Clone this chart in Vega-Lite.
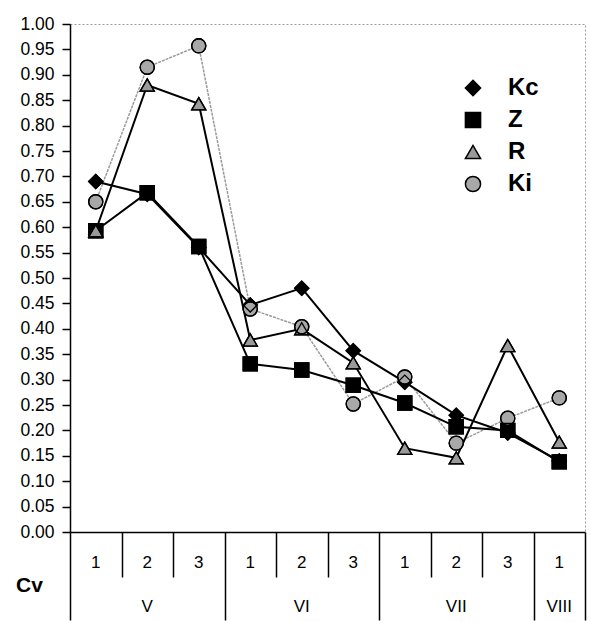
{
  "$schema": "https://vega.github.io/schema/vega-lite/v6.json",
  "width": 515,
  "height": 508,
  "autosize": {"type": "none"},
  "padding": {"left": 70, "top": 24, "right": 6, "bottom": 90},
  "background": "white",
  "config": {
    "font": "Liberation Sans",
    "view": {"stroke": "#9a9a9a", "strokeDash": [2, 2], "strokeWidth": 1},
    "axis": {"labelFont": "Liberation Sans", "labelColor": "black", "domainColor": "black", "tickColor": "black", "grid": false},
    "legend": {
      "orient": "none", "legendX": 391, "legendY": 52, "title": null,
      "symbolSize": 230, "symbolStrokeWidth": 1.5, "symbolOpacity": 1,
      "labelFontSize": 24, "labelFontWeight": "bold", "labelFont": "Liberation Sans", "labelColor": "black",
      "labelOffset": 23, "rowPadding": 8
    }
  },
  "data": {
    "values": [
      {"series": "Kc", "cat": "V-1", "value": 0.69},
      {"series": "Kc", "cat": "V-2", "value": 0.665},
      {"series": "Kc", "cat": "V-3", "value": 0.56},
      {"series": "Kc", "cat": "VI-1", "value": 0.447},
      {"series": "Kc", "cat": "VI-2", "value": 0.48},
      {"series": "Kc", "cat": "VI-3", "value": 0.357},
      {"series": "Kc", "cat": "VII-1", "value": 0.295},
      {"series": "Kc", "cat": "VII-2", "value": 0.23},
      {"series": "Kc", "cat": "VII-3", "value": 0.195},
      {"series": "Kc", "cat": "VIII-1", "value": 0.14},
      {"series": "Z", "cat": "V-1", "value": 0.593},
      {"series": "Z", "cat": "V-2", "value": 0.668},
      {"series": "Z", "cat": "V-3", "value": 0.562},
      {"series": "Z", "cat": "VI-1", "value": 0.331},
      {"series": "Z", "cat": "VI-2", "value": 0.319},
      {"series": "Z", "cat": "VI-3", "value": 0.289},
      {"series": "Z", "cat": "VII-1", "value": 0.254},
      {"series": "Z", "cat": "VII-2", "value": 0.207},
      {"series": "Z", "cat": "VII-3", "value": 0.2},
      {"series": "Z", "cat": "VIII-1", "value": 0.138},
      {"series": "R", "cat": "V-1", "value": 0.593},
      {"series": "R", "cat": "V-2", "value": 0.88},
      {"series": "R", "cat": "V-3", "value": 0.843},
      {"series": "R", "cat": "VI-1", "value": 0.378},
      {"series": "R", "cat": "VI-2", "value": 0.4},
      {"series": "R", "cat": "VI-3", "value": 0.333},
      {"series": "R", "cat": "VII-1", "value": 0.165},
      {"series": "R", "cat": "VII-2", "value": 0.146},
      {"series": "R", "cat": "VII-3", "value": 0.367},
      {"series": "R", "cat": "VIII-1", "value": 0.177},
      {"series": "Ki", "cat": "V-1", "value": 0.65},
      {"series": "Ki", "cat": "V-2", "value": 0.915},
      {"series": "Ki", "cat": "V-3", "value": 0.957},
      {"series": "Ki", "cat": "VI-1", "value": 0.439},
      {"series": "Ki", "cat": "VI-2", "value": 0.404},
      {"series": "Ki", "cat": "VI-3", "value": 0.252},
      {"series": "Ki", "cat": "VII-1", "value": 0.305},
      {"series": "Ki", "cat": "VII-2", "value": 0.175},
      {"series": "Ki", "cat": "VII-3", "value": 0.224},
      {"series": "Ki", "cat": "VIII-1", "value": 0.264}
    ]
  },
  "resolve": {"axis": {"x": "independent", "y": "independent"}},
  "layer": [
    {
      "transform": [{"filter": "datum.series == 'Ki'"}],
      "mark": {"type": "line", "color": "#9a9a9a", "strokeWidth": 1.5, "strokeDash": [3, 1]},
      "encoding": {
        "x": {
          "field": "cat", "type": "ordinal",
          "scale": {"type": "band", "paddingInner": 0, "paddingOuter": 0, "domain": ["V-1","V-2","V-3","VI-1","VI-2","VI-3","VII-1","VII-2","VII-3","VIII-1"]},
          "axis": {
            "orient": "bottom", "ticks": false, "tickSize": 0, "domain": false,
            "labelAngle": 0, "labelFontSize": 17, "labelPadding": 22,
            "labelExpr": "split(datum.value, '-')[1]",
            "title": "Cv", "titleFontSize": 21, "titleFontWeight": "bold", "titleFont": "Liberation Sans",
            "titleX": -41, "titleY": 53, "titleAlign": "center", "titleBaseline": "middle", "titleAngle": 0
          }
        },
        "y": {
          "field": "value", "type": "quantitative",
          "scale": {"domain": [0, 1], "nice": false},
          "axis": {
            "values": [0,0.05,0.1,0.15,0.2,0.25,0.3,0.35,0.4,0.45,0.5,0.55,0.6,0.65,0.7,0.75,0.8,0.85,0.9,0.95,1],
            "format": ".2f", "labelFontSize": 17.5, "tickSize": 8, "tickWidth": 1.5, "domainWidth": 1.5,
            "labelPadding": 8, "title": null
          }
        },
        "detail": {"field": "series"}
      }
    },
    {
      "transform": [{"filter": "datum.series != 'Ki'"}],
      "mark": {"type": "line", "color": "black", "strokeWidth": 2},
      "encoding": {
        "x": {
          "field": "cat", "type": "ordinal",
          "axis": {
            "orient": "bottom", "labels": false, "tickBand": "extent", "domain": true, "domainWidth": 1.5,
            "tickWidth": 1.5,
            "tickSize": {"condition": {"test": "indexof(['V-1','V-2','VI-1','VI-2','VII-1','VII-2'], datum.value) >= 0", "value": 45}, "value": 88},
            "title": null
          }
        },
        "y": {"field": "value", "type": "quantitative", "axis": null},
        "detail": {"field": "series"}
      }
    },
    {
      "mark": {"type": "point", "filled": true, "size": 200, "opacity": 1, "strokeWidth": 1.3},
      "encoding": {
        "x": {
          "field": "cat", "type": "ordinal",
          "axis": {
            "orient": "bottom", "ticks": false, "tickSize": 0, "domain": false,
            "values": ["V-2", "VI-2", "VII-2", "VIII-1"],
            "labelExpr": "split(datum.value, '-')[0]",
            "labelAngle": 0, "labelFontSize": 17, "labelPadding": 66, "title": null
          }
        },
        "y": {"field": "value", "type": "quantitative", "axis": null},
        "shape": {
          "field": "series", "type": "nominal",
          "scale": {"domain": ["Kc", "Z", "R", "Ki"], "range": ["diamond", "square", "triangle-up", "circle"]},
          "legend": {}
        },
        "fill": {
          "field": "series", "type": "nominal",
          "scale": {"domain": ["Kc", "Z", "R", "Ki"], "range": ["black", "black", "#9a9a9a", "#a8a8a8"]},
          "legend": {}
        },
        "stroke": {
          "field": "series", "type": "nominal",
          "scale": {"domain": ["Kc", "Z", "R", "Ki"], "range": ["black", "black", "black", "black"]},
          "legend": {}
        }
      }
    },
    {
      "mark": {"type": "point", "filled": false, "color": "black", "strokeWidth": 1.3, "size": 200, "opacity": 1},
      "encoding": {
        "x": {"field": "cat", "type": "ordinal", "axis": null},
        "y": {"field": "value", "type": "quantitative", "axis": null},
        "shape": {"field": "series", "type": "nominal", "legend": null}
      }
    }
  ]
}
